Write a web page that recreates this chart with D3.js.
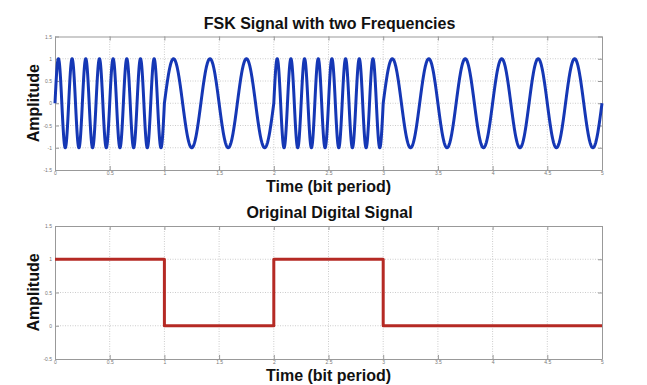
<!DOCTYPE html>
<html>
<head>
<meta charset="utf-8">
<script src="https://cdn.jsdelivr.net/npm/d3@7"></script>
<style>
  body { margin: 0; background: #fff; }
  .tick text { fill: #777; font-family: Arial, "Liberation Sans", sans-serif; font-size: 5px; }
  .domain { stroke: #999; }
  .tick line { stroke: #999; }
  .grid line { stroke: #ccc; stroke-dasharray: 1,1.5; }
  .title, .label { font-family: Arial, "Liberation Sans", sans-serif; font-weight: bold; fill: #111; }
</style>
</head>
<body>
<div id="chart"></div>
<script>
// bit sequence and carrier frequencies (cycles per bit period)
const bits = [1, 0, 1, 0, 0]
const freqHigh = 8
const freqLow = 3
const xTicks = [0, 0.5, 1, 1.5, 2, 2.5, 3, 3.5, 4, 4.5, 5]
const yTicksTop = [-1.5, -1, -0.5, 0, 0.5, 1, 1.5]
const yTicksBottom = [-0.5, 0, 0.5, 1, 1.5]

const width = 647
const height = 385
const left = 55
const right = 602

const svg = d3.select('#chart').append('svg')
  .attr('width', width)
  .attr('height', height)

const x = d3.scaleLinear().domain([0, bits.length]).range([left, right])

function drawPanel (opts) {
  const y = d3.scaleLinear().domain(opts.yDomain).range([opts.bottom, opts.top])
  const g = svg.append('g')
  const fmt = d => String(d)

  // grid
  const grid = g.append('g').attr('class', 'grid')
  grid.selectAll('.gx').data(xTicks.slice(1, -1)).join('line')
    .attr('x1', d => x(d)).attr('x2', d => x(d))
    .attr('y1', opts.top).attr('y2', opts.bottom)
  grid.selectAll('.gy').data(opts.yTicks.slice(1, -1)).join('line')
    .attr('x1', left).attr('x2', right)
    .attr('y1', d => y(d)).attr('y2', d => y(d))

  // axes (MATLAB style box with inward ticks)
  g.append('g').attr('transform', `translate(0,${opts.bottom})`)
    .call(d3.axisBottom(x).tickValues(xTicks).tickFormat(fmt).tickSizeInner(-4).tickSizeOuter(0).tickPadding(1))
  g.append('g').attr('transform', `translate(0,${opts.top})`)
    .call(d3.axisTop(x).tickValues(xTicks).tickFormat('').tickSizeInner(-4).tickSizeOuter(0))
  g.append('g').attr('transform', `translate(${left},0)`)
    .call(d3.axisLeft(y).tickValues(opts.yTicks).tickFormat(fmt).tickSizeInner(-4).tickSizeOuter(0).tickPadding(3))
  g.append('g').attr('transform', `translate(${right},0)`)
    .call(d3.axisRight(y).tickValues(opts.yTicks).tickFormat('').tickSizeInner(-4).tickSizeOuter(0))

  g.append('path')
    .datum(opts.data)
    .attr('fill', 'none')
    .attr('stroke', opts.color)
    .attr('stroke-width', 3)
    .attr('stroke-linejoin', 'round')
    .attr('d', d3.line().x(d => x(d[0])).y(d => y(d[1])))

  g.append('text').attr('class', 'title')
    .attr('x', (left + right) / 2 + 1).attr('y', opts.top - 8)
    .attr('text-anchor', 'middle').attr('font-size', 16)
    .text(opts.title)
  g.append('text').attr('class', 'label')
    .attr('x', (left + right) / 2).attr('y', opts.bottom + 22)
    .attr('text-anchor', 'middle').attr('font-size', 16)
    .text('Time (bit period)')
  g.append('text').attr('class', 'label')
    .attr('transform', `translate(39,${(opts.top + opts.bottom) / 2}) rotate(-90)`)
    .attr('text-anchor', 'middle').attr('font-size', 16)
    .text('Amplitude')
}

// FSK waveform sampled along the bit sequence
const fsk = []
const samplesPerBit = 400
bits.forEach((b, i) => {
  const f = b ? freqHigh : freqLow
  for (let k = 0; k <= samplesPerBit; k++) {
    const t = i + k / samplesPerBit
    fsk.push([t, Math.sin(2 * Math.PI * f * t)])
  }
})

// square wave of the original bits
const digital = []
bits.forEach((b, i) => {
  digital.push([i, b])
  digital.push([i + 1, b])
})

drawPanel({
  top: 36.5, bottom: 170, yDomain: [-1.5, 1.5], yTicks: yTicksTop,
  data: fsk, color: '#1537b5', title: 'FSK Signal with two Frequencies'
})

drawPanel({
  top: 226, bottom: 359, yDomain: [-0.5, 1.5], yTicks: yTicksBottom,
  data: digital, color: '#b52a24', title: 'Original Digital Signal'
})
</script>
</body>
</html>
